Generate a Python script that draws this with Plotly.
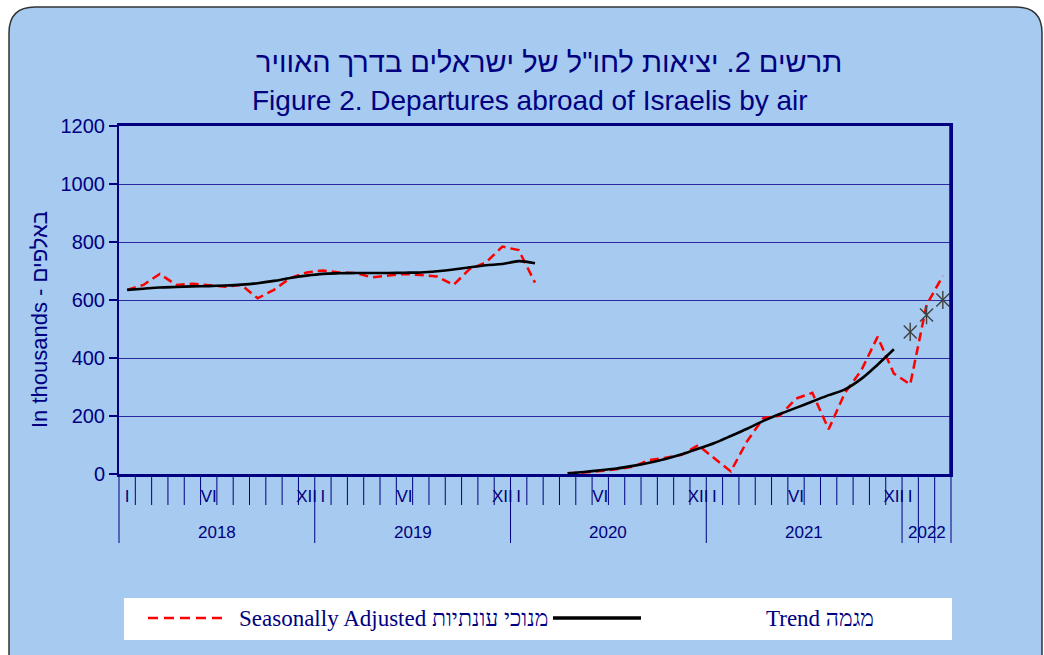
import plotly.graph_objects as go

# ---------------- data ----------------
years = [2018, 2019, 2020, 2021, 2022]
months_per_year = [12, 12, 12, 12, 3]
roman = ["I", "II", "III", "IV", "V", "VI", "VII", "VIII", "IX", "X", "XI", "XII"]
labelled_months = ["I", "VI", "XII"]

# monthly values, thousands, Jan 2018 .. Mar 2022 (None = not shown)
seasonally_adjusted = [
    635, 652, 690, 652, 656, 650, 646, 652, 606, 635, 676, 695,      # 2018
    702, 695, 693, 678, 685, 690, 686, 681, 652, 707, 730, 784,      # 2019
    772, 660, None, 3, 5, 10, 16, 25, 48, 56, 66, 99,                # 2020
    54, 9, 113, 193, 201, 260, 280, 154, 280, 357, 473, 346,         # 2021
    309, 583, 683,                                                   # 2022
]
trend = [
    635, 639, 643, 645, 647, 648, 650, 653, 658, 666, 676, 684,
    690, 692, 693, 693, 693, 694, 695, 699, 705, 713, 720, 724,
    734, 727, None, 2, 7, 13, 19, 28, 39, 52, 68, 87,
    107, 131, 156, 183, 207, 228, 250, 272, 292, 328, 377, 430,
    None, None, None,
]
provisional_trend = [None] * 48 + [490, 548, 600]

title_he = "תרשים 2. יציאות לחו\"ל של ישראלים בדרך האוויר"
title_en = "Figure 2. Departures abroad of Israelis by air"
y_title = "In thousands - באלפים"
legend_sa = "Seasonally Adjusted מנוכי עונתיות"
legend_trend = "Trend מגמה"

# ---------------- derived ----------------
month_index = list(range(sum(months_per_year)))
month_names = [roman[m] for y, n in zip(years, months_per_year) for m in range(n)]
n_months = len(month_index)

NAVY = "#000080"
GRID = "#2a2aa0"
BLUE_BG = "#A6CAF0"
SANS = "Liberation Sans, Arial, sans-serif"
SERIF = "Liberation Serif, Times New Roman, serif"

W_PX, H_PX = 1044, 655
PL, PR, PT, PB = 119, 951, 126, 474


def px(x):
    return (x - PL) / (PR - PL)


def py(y):
    return (PB - y) / (PB - PT)


def mx(i):  # month index -> paper x
    return (i + 0.5) / n_months


fig = go.Figure()

fig.add_trace(go.Scatter(
    x=month_index, y=seasonally_adjusted, mode="lines",
    line=dict(color="#FF0000", width=2.5, dash="9px,5px"),
    connectgaps=False, showlegend=False, name="Seasonally Adjusted"))
fig.add_trace(go.Scatter(
    x=month_index, y=trend, mode="lines",
    line=dict(color="black", width=2.6, shape="spline", smoothing=0.9),
    connectgaps=False, showlegend=False, name="Trend"))
for sym in ["x-thin-open", "line-ns-open"]:
    fig.add_trace(go.Scatter(
        x=month_index, y=provisional_trend, mode="markers",
        marker=dict(symbol=sym, size=13, color="#404040",
                    line=dict(width=1.4, color="#404040")),
        cliponaxis=False, showlegend=False, name="Trend"))

shapes = []
# rounded outer frame
L, T, R, B, r = 9, 7, 1042, 720, 26
path = (f"M {px(L)},{py(T + r)} Q {px(L)},{py(T)} {px(L + r)},{py(T)} "
        f"L {px(R - r)},{py(T)} Q {px(R)},{py(T)} {px(R)},{py(T + r)} "
        f"L {px(R)},{py(B)} L {px(L)},{py(B)} Z")
shapes.append(dict(type="path", xref="paper", yref="paper", path=path,
                   fillcolor=BLUE_BG, line=dict(color="#333333", width=1.5),
                   layer="below"))
# month / year dividers under the axis
year_starts = []
acc = 0
for n in months_per_year:
    year_starts.append(acc)
    acc += n
for k in range(n_months + 1):
    long = k in year_starts or k == n_months or k > year_starts[-1]
    x = k / n_months
    shapes.append(dict(type="line", xref="paper", yref="paper",
                       x0=x, x1=x, y0=0, y1=py(543) if long else py(505),
                       line=dict(color=NAVY, width=1)))
# thicker right edge of plot area
shapes.append(dict(type="line", xref="paper", yref="paper", x0=1, x1=1,
                   y0=0, y1=1, line=dict(color=NAVY, width=3.5)))
# legend box
shapes.append(dict(type="rect", xref="paper", yref="paper",
                   x0=px(124), x1=px(952), y0=py(640), y1=py(598),
                   fillcolor="white", line=dict(width=0)))
shapes.append(dict(type="line", xref="paper", yref="paper",
                   x0=px(148), x1=px(226), y0=py(618), y1=py(618),
                   line=dict(color="#FF0000", width=2.5, dash="10px,6px")))
shapes.append(dict(type="line", xref="paper", yref="paper",
                   x0=px(553), x1=px(641), y0=py(618), y1=py(618),
                   line=dict(color="black", width=3.5)))


def note(text, x, y, size, family=SANS, xanchor="center", **kw):
    return dict(text=text, x=x, y=y, xref="paper", yref="paper",
                xanchor=xanchor, yanchor="middle", showarrow=False,
                font=dict(family=family, size=size, color=NAVY), **kw)


annotations = [
    note(title_he, px(549), py(62), 29),
    note(title_en, px(530), py(100), 28),
    note(y_title, px(39), py(320), 22, textangle=-90),
    note(legend_sa, px(237), py(618), 23, family=SERIF, xanchor="left"),
    note(legend_trend, px(764), py(618), 23, family=SERIF, xanchor="left"),
]
for y, s, n in zip(years, year_starts, months_per_year):
    annotations.append(note(str(y), mx(s + (n - 1) / 2), py(532), 17))

tick_vals = [i for i, m in zip(month_index, month_names) if m in labelled_months]
tick_text = [month_names[i] for i in tick_vals]

fig.update_layout(
    width=W_PX, height=H_PX,
    margin=dict(l=PL, r=W_PX - PR, t=PT, b=H_PX - PB, autoexpand=False),
    paper_bgcolor="white", plot_bgcolor="white",
    showlegend=False,
    shapes=shapes, annotations=annotations,
    xaxis=dict(range=[-0.5, n_months - 0.5], tickmode="array",
               tickvals=tick_vals, ticktext=tick_text,
               ticks="outside", ticklen=5, tickcolor="rgba(0,0,0,0)",
               tickangle=0,
               tickfont=dict(family=SANS, size=17, color=NAVY),
               showgrid=False, zeroline=False,
               showline=True, linecolor=NAVY, linewidth=2.5, mirror=True),
    yaxis=dict(range=[0, 1200], tickmode="linear", tick0=0, dtick=200,
               ticks="outside", ticklen=8, tickcolor=NAVY, tickwidth=1.5,
               tickfont=dict(family=SANS, size=20, color=NAVY),
               showgrid=True, gridcolor=GRID, gridwidth=1,
               zeroline=False,
               showline=True, linecolor=NAVY, linewidth=2, mirror=True),
)

fig.write_html("out.html", config={"displayModeBar": False},
               post_script="document.body.style.margin='0';document.body.style.overflow='hidden';")
